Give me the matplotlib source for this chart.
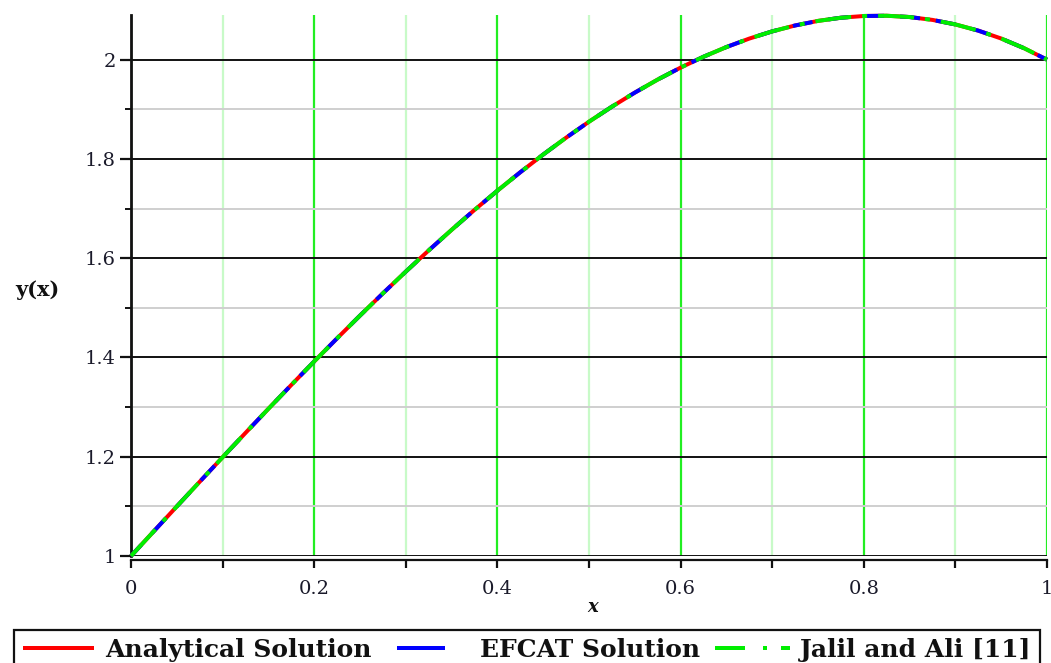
import matplotlib
matplotlib.use("Agg")
import matplotlib.pyplot as plt
from matplotlib.lines import Line2D
from matplotlib.patches import Rectangle
from matplotlib.ticker import MultipleLocator

plt.rcParams['lines.scale_dashes'] = False

# ---- data ----
x_vals = [0.000, 0.025, 0.050, 0.075, 0.100, 0.125, 0.150, 0.175, 0.200, 0.225,
          0.250, 0.275, 0.300, 0.325, 0.350, 0.375, 0.400, 0.425, 0.450, 0.475,
          0.500, 0.525, 0.550, 0.575, 0.600, 0.625, 0.650, 0.675, 0.700, 0.725,
          0.750, 0.775, 0.800, 0.825, 0.850, 0.875, 0.900, 0.925, 0.950, 0.975, 1.000]
y_analytical = [1.0000, 1.0500, 1.0999, 1.1496, 1.1990, 1.2480, 1.2966, 1.3446, 1.3920, 1.4386,
                1.4844, 1.5292, 1.5730, 1.6157, 1.6571, 1.6973, 1.7360, 1.7732, 1.8089, 1.8428,
                1.8750, 1.9053, 1.9336, 1.9599, 1.9840, 2.0059, 2.0254, 2.0425, 2.0570, 2.0689,
                2.0781, 2.0845, 2.0880, 2.0885, 2.0859, 2.0801, 2.0710, 2.0585, 2.0426, 2.0231, 2.0000]
y_efcat = [1.0000, 1.0500, 1.0999, 1.1496, 1.1990, 1.2480, 1.2966, 1.3446, 1.3920, 1.4386,
           1.4844, 1.5292, 1.5730, 1.6157, 1.6571, 1.6973, 1.7360, 1.7732, 1.8089, 1.8428,
           1.8750, 1.9053, 1.9336, 1.9599, 1.9840, 2.0059, 2.0254, 2.0425, 2.0570, 2.0689,
           2.0781, 2.0845, 2.0880, 2.0885, 2.0859, 2.0801, 2.0710, 2.0585, 2.0426, 2.0231, 2.0000]
y_jalil = [1.0000, 1.0500, 1.0999, 1.1496, 1.1990, 1.2480, 1.2966, 1.3446, 1.3920, 1.4386,
           1.4844, 1.5292, 1.5730, 1.6157, 1.6571, 1.6973, 1.7360, 1.7732, 1.8089, 1.8428,
           1.8750, 1.9053, 1.9336, 1.9599, 1.9840, 2.0059, 2.0254, 2.0425, 2.0570, 2.0689,
           2.0781, 2.0845, 2.0880, 2.0885, 2.0859, 2.0801, 2.0710, 2.0585, 2.0426, 2.0231, 2.0000]
labels = ["Analytical Solution", "EFCAT Solution", "Jalil and Ali [11]"]
x_ticks = [0, 0.2, 0.4, 0.6, 0.8, 1]
y_ticks = [1, 1.2, 1.4, 1.6, 1.8, 2]
tick_text_x = ["0", "0.2", "0.4", "0.6", "0.8", "1"]
tick_text_y = ["1", "1.2", "1.4", "1.6", "1.8", "2"]

W, H = 1051, 663
def fx(px): return px / W
def fy(py): return (H - py) / H
PT = 72.0 / 100.0  # points per pixel

RED = "#ff0000"
BLUE = "#0000ff"
GREEN = "#00ee00"
blue_dash = (5 * PT, (20 * PT, 16 * PT))
green_dash = (0, (36 * PT, 11 * PT, 5 * PT, 11 * PT))
lw = 4.0 * PT

fig = plt.figure(figsize=(W / 100, H / 100), dpi=100)
ax = fig.add_axes([fx(131), fy(556), (1047 - 131) / W, (556 - 15) / H])
ax.set_xlim(0, 1)
ax.set_ylim(1.0, 2.09)

# grid
ax.xaxis.set_major_locator(MultipleLocator(0.2))
ax.xaxis.set_minor_locator(MultipleLocator(0.1))
ax.yaxis.set_major_locator(MultipleLocator(0.2))
ax.yaxis.set_minor_locator(MultipleLocator(0.1))
ax.set_axisbelow(True)
ax.grid(which='major', axis='y', color='#111111', lw=1.4)
ax.grid(which='minor', axis='y', color='#cfcfcf', lw=1.4)
ax.grid(which='major', axis='x', color='#22ee22', lw=1.6)
ax.grid(which='minor', axis='x', color='#c8fac8', lw=1.6)

ax.plot(x_vals, y_analytical, color=RED, lw=lw, solid_capstyle='butt', zorder=3, clip_on=False)
ax.plot(x_vals, y_efcat, color=BLUE, lw=lw, linestyle=blue_dash, dash_capstyle='butt', zorder=4, clip_on=False)
ax.plot(x_vals, y_jalil, color=GREEN, lw=lw, linestyle=green_dash, dash_capstyle='butt', zorder=5, clip_on=False)

for s in ['top', 'right']:
    ax.spines[s].set_visible(False)
ax.spines['left'].set_linewidth(2.0)
ax.spines['left'].set_color('#111111')
ax.spines['bottom'].set_linewidth(1.6)
ax.spines['bottom'].set_color('#111111')
ax.spines['bottom'].set_position(('outward', 3))

ax.set_xticks(x_ticks)
ax.set_xticklabels(tick_text_x)
ax.set_yticks(y_ticks)
ax.set_yticklabels(tick_text_y)
for lab in ax.get_xticklabels() + ax.get_yticklabels():
    lab.set_fontfamily('DejaVu Serif')
    lab.set_fontsize(14)
    lab.set_color('#1a1a2a')
ax.tick_params(axis='y', which='major', direction='out', length=8, width=1.6, pad=3, color='#111111')
ax.tick_params(axis='y', which='minor', direction='out', length=4, width=1.4, color='#111111')
ax.tick_params(axis='x', which='major', direction='out', length=6, width=1.6, pad=8, color='#111111')
ax.tick_params(axis='x', which='minor', direction='out', length=6, width=1.6, color='#111111')

fig.text(fx(37), fy(290), "y(x)", family='DejaVu Serif', weight='bold', size=15,
         ha='center', va='center', color='#111111')
fig.text(fx(593), fy(607), "x", family='DejaVu Serif', weight='bold', style='italic', size=13,
         ha='center', va='center', color='#111111')

# legend
fig.patches.append(Rectangle((fx(14), fy(700)), fx(1040) - fx(14), fy(630) - fy(700),
                             transform=fig.transFigure, fill=False, ec='#111111', lw=1.6))
ly = fy(648)
fig.lines.append(Line2D([fx(23), fx(94)], [ly, ly], transform=fig.transFigure,
                        color=RED, lw=lw, solid_capstyle='butt'))
fig.lines.append(Line2D([fx(397), fx(445)], [ly, ly], transform=fig.transFigure,
                        color=BLUE, lw=lw, solid_capstyle='butt'))
fig.lines.append(Line2D([fx(715), fx(790)], [ly, ly], transform=fig.transFigure,
                        color=GREEN, lw=lw, linestyle=(0, (30 * PT, 18 * PT, 4 * PT, 14 * PT)),
                        dash_capstyle='butt'))
leg_font = dict(family='DejaVu Serif', weight='bold', size=18, color='#111111', va='center', ha='left')
fig.text(fx(105), fy(650), labels[0], **leg_font)
fig.text(fx(480), fy(650), labels[1], **leg_font)
fig.text(fx(800), fy(650), labels[2], **leg_font)

fig.savefig("out.png", dpi=100)
